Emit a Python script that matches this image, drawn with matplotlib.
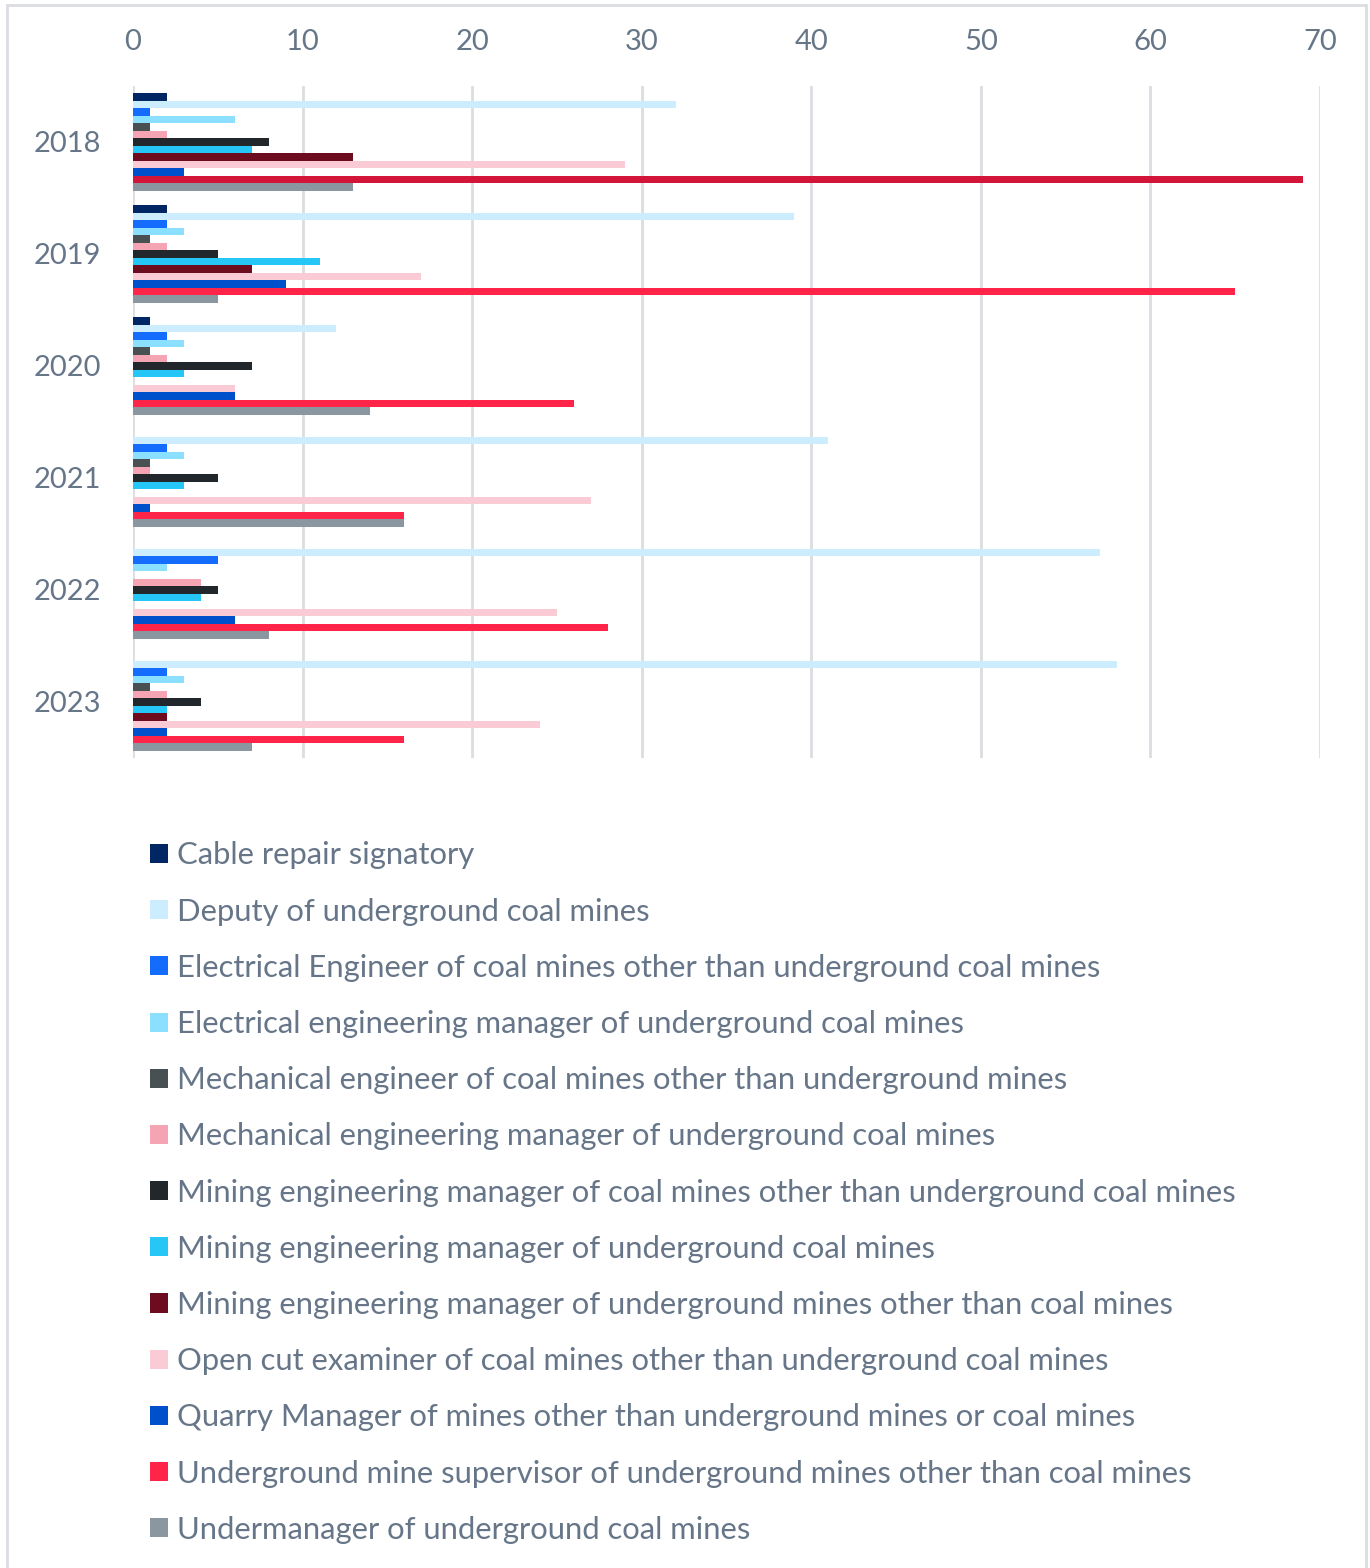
import numpy as np
import matplotlib
matplotlib.use("Agg")
import matplotlib.pyplot as plt
from matplotlib.patches import Rectangle, Patch

plt.rcParams['font.family'] = ['Lato', 'DejaVu Sans']

years = ['2018', '2019', '2020', '2021', '2022', '2023']

seriesNames = [
    'Cable repair signatory',
    'Deputy of underground coal mines',
    'Electrical Engineer of coal mines other than underground coal mines',
    'Electrical engineering manager of underground coal mines',
    'Mechanical engineer of coal mines other than underground mines',
    'Mechanical engineering manager of underground coal mines',
    'Mining engineering manager of coal mines other than underground coal mines',
    'Mining engineering manager of underground coal mines',
    'Mining engineering manager of underground mines other than coal mines',
    'Open cut examiner of coal mines other than underground coal mines',
    'Quarry Manager of mines other than underground mines or coal mines',
    'Underground mine supervisor of underground mines other than coal mines',
    'Undermanager of underground coal mines',
]

# values per series, one per year (2018..2023)
cableRepair = [2, 2, 1, 0, 0, 0]
deputy = [32, 39, 12, 41, 57, 58]
elecEngOther = [1, 2, 2, 2, 5, 2]
elecMgrUG = [6, 3, 3, 3, 2, 3]
mechEngOther = [1, 1, 1, 1, 0, 1]
mechMgrUG = [2, 2, 2, 1, 4, 2]
miningMgrOther = [8, 5, 7, 5, 5, 4]
miningMgrUGCoal = [7, 11, 3, 3, 4, 2]
miningMgrUGOther = [13, 7, 0, 0, 0, 2]
openCut = [29, 17, 6, 27, 25, 24]
quarryMgr = [3, 9, 6, 1, 6, 2]
ugSupervisor = [69, 65, 26, 16, 28, 16]
undermanager = [13, 5, 14, 16, 8, 7]

allSeries = [cableRepair, deputy, elecEngOther, elecMgrUG, mechEngOther, mechMgrUG,
             miningMgrOther, miningMgrUGCoal, miningMgrUGOther, openCut, quarryMgr,
             ugSupervisor, undermanager]

colors = ['#002664', '#CBEDFD', '#146CFD', '#8CE0FF', '#495054', '#F4A4B2',
          '#22272B', '#26C6F6', '#6D0B1F', '#FACBD5', '#0050CC', '#FF2448', '#8A97A1']

textColor = '#667688'
gridColor = '#DADDE1'

fig = plt.figure(figsize=(13.7, 15.68), dpi=100)
ax = fig.add_axes([133/1370, 1 - 758/1568, 1187/1370, 672/1568])

n = len(allSeries)
barH = 0.87 / n
y = np.arange(len(years))
for i, vals in enumerate(allSeries):
    offs = (i - (n - 1) / 2) * barH
    cols = [colors[i]] * len(years)
    if i == 11:
        cols[0] = '#D4153A'  # 2018 bar is shown darker in the source
    ax.barh(y + offs, vals, height=barH, color=cols, zorder=3)

ax.set_xlim(0, 70)
ax.set_ylim(len(years) - 0.5, -0.5)
ax.set_xticks(np.arange(0, 71, 10))
ax.set_yticks(y)
ax.set_yticklabels(years)
ax.xaxis.tick_top()
ax.tick_params(axis='both', length=0, labelsize=21, labelcolor=textColor)
ax.tick_params(axis='x', pad=22)
ax.tick_params(axis='y', pad=23)
ax.grid(axis='x', color=gridColor, linewidth=2, zorder=0)
for s in ax.spines.values():
    s.set_visible(False)

handles = [Patch(facecolor=c) for c in colors]
leg = fig.legend(handles, seriesNames, loc='upper left',
                 bbox_to_anchor=(135/1370, 1 - 826/1568), frameon=False,
                 fontsize=22.3, handlelength=0.57, handleheight=0.57,
                 handletextpad=0.3, labelspacing=0.91, borderpad=0)
for t in leg.get_texts():
    t.set_color(textColor)

# outer frame
fig.patches.append(Rectangle((7/1370, -0.01), 1359/1370, 1 - 5/1568 + 0.01,
                             transform=fig.transFigure, fill=False,
                             edgecolor=gridColor, linewidth=2))

fig.savefig('out.png', dpi=100)
